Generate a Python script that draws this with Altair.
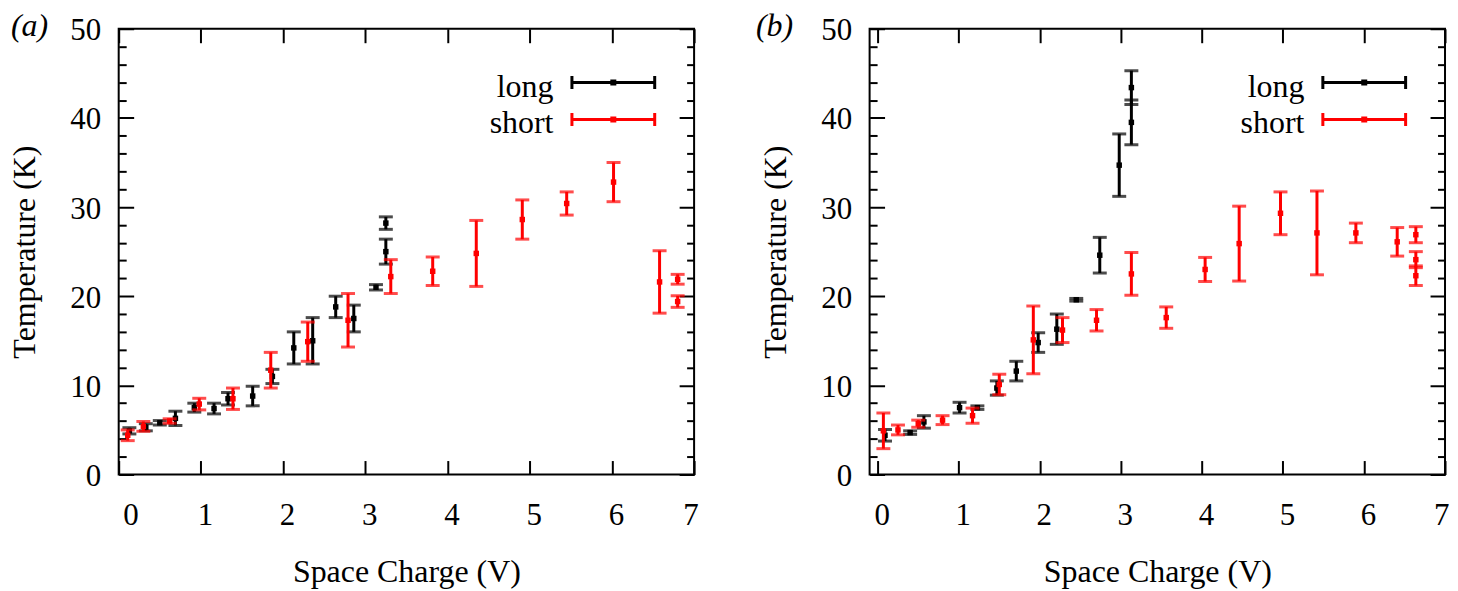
import altair as alt
import pandas as pd

# panel (a)
a_long_x = [0.13, 0.33, 0.50, 0.69, 0.92, 1.16, 1.33, 1.63, 1.87, 2.13, 2.36, 2.64, 2.86, 3.13, 3.25, 3.25]
a_long_y = [4.9, 5.3, 5.8, 6.3, 7.5, 7.4, 8.5, 8.8, 11.0, 14.2, 15.0, 18.8, 17.5, 21.0, 28.2, 25.0]
a_long_err = [0.35, 0.4, 0.25, 0.8, 0.5, 0.6, 0.7, 1.1, 0.8, 1.8, 2.6, 1.2, 1.5, 0.3, 0.7, 1.4]

a_short_x = [0.11, 0.30, 0.62, 0.98, 1.39, 1.85, 2.30, 2.79, 3.31, 3.82, 4.35, 4.91, 5.45, 6.02, 6.58, 6.80, 6.80]
a_short_y = [4.4, 5.4, 6.0, 7.9, 8.5, 11.7, 14.9, 17.3, 22.2, 22.8, 24.8, 28.6, 30.4, 32.8, 21.6, 21.9, 19.4]
a_short_err = [0.6, 0.55, 0.25, 0.65, 1.2, 2.0, 2.2, 3.0, 1.9, 1.6, 3.7, 2.2, 1.3, 2.2, 3.5, 0.55, 0.65]

# panel (b)
b_long_x = [0.09, 0.40, 0.57, 1.01, 1.23, 1.47, 1.71, 1.98, 2.21, 2.45, 2.74, 2.98, 3.13, 3.13]
b_long_y = [4.4, 4.7, 5.9, 7.5, 7.5, 9.7, 11.6, 14.8, 16.3, 19.6, 24.6, 34.7, 39.5, 43.4]
b_long_err = [0.65, 0.2, 0.7, 0.6, 0.2, 0.8, 1.1, 1.1, 1.7, 0.15, 2.0, 3.5, 2.5, 1.9]

b_short_x = [0.07, 0.25, 0.50, 0.80, 1.17, 1.50, 1.92, 2.28, 2.70, 3.13, 3.56, 4.04, 4.46, 4.97, 5.42, 5.90, 6.41, 6.64, 6.64, 6.64]
b_short_y = [4.9, 5.0, 5.7, 6.1, 6.6, 10.1, 15.1, 16.2, 17.3, 22.5, 17.6, 23.0, 25.9, 29.3, 27.1, 27.1, 26.1, 26.9, 24.1, 22.3]
b_short_err = [2.0, 0.55, 0.4, 0.5, 0.85, 1.15, 3.8, 1.4, 1.2, 2.4, 1.2, 1.35, 4.2, 2.4, 4.7, 1.1, 1.6, 0.9, 0.9, 1.1]

series_names = ["long", "short"]
series_colors = ["#000000", "#ff0000"]
x_ticks = list(range(0, 8))
y_ticks = list(range(0, 51, 2))

FONT = "'Liberation Serif', 'Times New Roman', Times, 'DejaVu Serif', serif"
W, H = 577, 447

color_scale = alt.Scale(domain=series_names, range=series_colors)
y_scale = alt.Scale(domain=[0, 50], nice=False, zero=False)

# gnuplot style: ticks point inwards, long ones at every 10 K
y_tick_len = {"expr": "datum.value % 10 === 0 ? -15 : -7.5"}
x_tick_len = {"expr": "-14"}

# key sample: bar with end caps and a dot in the middle
key_path = "M-8.3,-0.8H8.3M-8.3,-2.1V0.5M8.3,-2.1V0.5M-0.3,-1.1H0.3V-0.5H-0.3Z"
key = alt.Legend(orient="none", legendX=480, legendY=42, title=None, direction="vertical",
                 symbolType=key_path, symbolSize=100, symbolStrokeWidth=3,
                 labelFont=FONT, labelFontSize=32, labelColor="black", labelAlign="right",
                 labelOffset={"expr": "-76"}, rowPadding=4, padding=0)


def table(name, xs, ys, errs):
    return pd.DataFrame({
        "series": name, "x": xs, "y": ys,
        "lo": [y - e for y, e in zip(ys, errs)],
        "hi": [y + e for y, e in zip(ys, errs)],
    })


def series(df, x_scale, x_axis, y_axis):
    base = alt.Chart(df)
    x = alt.X("x:Q", scale=x_scale, axis=x_axis)
    col = alt.Color("series:N", scale=color_scale, legend=None)
    bars = base.mark_rule(strokeWidth=3).encode(
        x=x, y=alt.Y("lo:Q", scale=y_scale, axis=y_axis), y2="hi:Q",
        color=alt.Color("series:N", scale=color_scale, legend=key))
    cap_lo = base.mark_tick(orient="horizontal", size=14, thickness=3).encode(
        x=x, y=alt.Y("lo:Q", scale=y_scale, axis=y_axis), color=col)
    cap_hi = base.mark_tick(orient="horizontal", size=14, thickness=3).encode(
        x=x, y=alt.Y("hi:Q", scale=y_scale, axis=y_axis), color=col)
    dots = base.mark_square(size=30, opacity=1).encode(
        x=x, y=alt.Y("y:Q", scale=y_scale, axis=y_axis), color=col)
    return alt.layer(bars, cap_lo, cap_hi, dots)


def panel(tag, tag_dx, xdom, long_df, short_df):
    x_scale = alt.Scale(domain=xdom, nice=False, zero=False)
    x_main = alt.Axis(orient="bottom", values=x_ticks, format="d", tickSize=x_tick_len,
                      tickWidth=2, tickColor="black", domain=False, grid=False,
                      labelFont=FONT, labelFontSize=31, labelColor="black",
                      labelPadding=40, labelOffset=4, labelOverlap=False,
                      title="Space Charge (V)", titleFont=FONT, titleFontSize=32,
                      titleFontWeight="normal", titleColor="black",
                      titleX=W / 2, titleY=97, titleBaseline="middle", titleAlign="center")
    y_main = alt.Axis(orient="left", values=y_ticks, tickSize=y_tick_len,
                      tickWidth=2, tickColor="black", domain=False, grid=False,
                      labelFont=FONT, labelFontSize=31, labelColor="black",
                      labelExpr="datum.value % 10 === 0 ? datum.label : ''",
                      labelPadding=33, labelOffset=2, labelOverlap=False,
                      title="Temperature (K)", titleFont=FONT, titleFontSize=32,
                      titleFontWeight="normal", titleColor="black", titleAngle=-90,
                      titleX=-94, titleY=H / 2, titleBaseline="middle", titleAlign="center")
    x_top = alt.Axis(orient="top", values=x_ticks, tickSize=x_tick_len, tickWidth=2,
                     tickColor="black", domain=False, grid=False, labels=False, title=None)
    y_right = alt.Axis(orient="right", values=y_ticks, tickSize=y_tick_len, tickWidth=2,
                       tickColor="black", domain=False, grid=False, labels=False, title=None)
    return alt.layer(
        series(long_df, x_scale, x_main, y_main),
        series(short_df, x_scale, x_top, y_right),
    ).resolve_axis(x="independent", y="independent").properties(
        width=W, height=H,
        title=alt.TitleParams(text=tag, anchor="start", frame="group", orient="top",
                              offset=-53, dx=tag_dx, font=FONT, fontSize=32,
                              fontStyle="italic", fontWeight="normal", color="black",
                              baseline="alphabetic"),
    )


pa = panel("(a)", -108, [0, 7],
           table("long", a_long_x, a_long_y, a_long_err),
           table("short", a_short_x, a_short_y, a_short_err))
pb = panel("(b)", -114, [-0.1, 7],
           table("long", b_long_x, b_long_y, b_long_err),
           table("short", b_short_x, b_short_y, b_short_err))

chart = alt.hconcat(pa, pb, spacing=56).resolve_scale(
    x="independent", y="independent", color="independent"
).configure_view(stroke="black", strokeWidth=2).properties(padding=0)

chart.save("out.html", embed_options={"renderer": "svg", "actions": False})
